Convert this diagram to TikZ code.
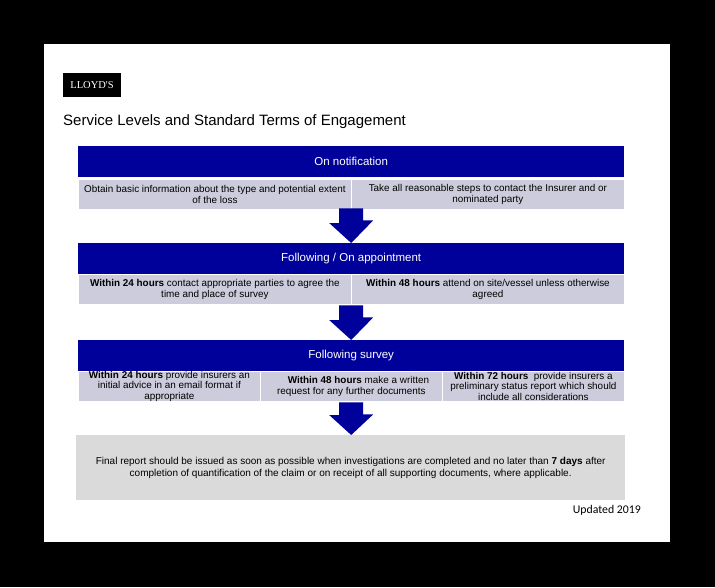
\documentclass[tikz,border=0pt]{standalone}
\usepackage{fontspec}
\setmainfont{Liberation Sans}
\newfontfamily\logofont{Liberation Serif}
\newfontfamily\notefont{Carlito}
\usetikzlibrary{positioning}
\definecolor{navy}{RGB}{0,0,155}
\definecolor{lilac}{RGB}{204,204,220}
\definecolor{pale}{RGB}{218,218,218}
\tikzset{
  header/.style = {fill=navy, text=white, minimum width=546pt, minimum height=31pt, inner sep=0pt, font=\fontsize{11.5}{13}\selectfont},
  cell/.style = {fill=lilac, draw=white, line width=0.8pt, minimum height=30pt, inner sep=0pt, align=center, font=\fontsize{9.9}{10.2}\selectfont},
  wide/.style = {cell, minimum width=273pt},
  third/.style = {cell, minimum width=182pt}
}
\begin{document}
\begin{tikzpicture}[x=1pt, y=-1pt]
  \fill[black] (0,0) rectangle (715,587);
  \fill[white] (44,44) rectangle (670,542);
  \useasboundingbox (0,0) rectangle (715,587);

  % logo and title
  \node[fill=black, text=white, minimum width=58pt, minimum height=24pt, inner sep=0pt, font=\logofont\fontsize{10.5}{12}\selectfont] (logo) at (92,85) {LLOYD'S};
  \node[anchor=west, inner sep=0pt, font=\fontsize{15}{18}\selectfont] (title) at (63,122) {Service Levels and Standard Terms of Engagement};

  % stage 1
  \node[header, anchor=north west] (h1) at (78,146) {On notification};
  \node[wide, anchor=north west] (c11) at (78,179) {Obtain basic information about the type and potential extent\\of the loss};
  \node[wide, anchor=north west] (c12) at (351,179) {Take all reasonable steps to contact the Insurer and or\\nominated party};

  % stage 2
  \node[header, anchor=north west] (h2) at (78,243) {Following / On appointment};
  \node[wide, anchor=north west] (c21) at (78,274) {\textbf{Within 24 hours} contact appropriate parties to agree the\\time and place of survey};
  \node[wide, anchor=north west] (c22) at (351,274) {\textbf{Within 48 hours} attend on site/vessel unless otherwise\\agreed};

  % stage 3
  \node[header, anchor=north west] (h3) at (78,340) {Following survey};
  \node[third, anchor=north west] (c31) at (78,371) {\textbf{Within 24 hours} provide insurers an\\initial advice in an email format if\\appropriate};
  \node[third, anchor=north west] (c32) at (260,371) {\hspace{14pt}\textbf{Within 48 hours} make a written\\request for any further documents};
  \node[third, anchor=north west] (c33) at (442,371) {\textbf{Within 72 hours}\ \ provide insurers a\\preliminary status report which should\\include all considerations};

  % final
  \node[fill=pale, anchor=north west, minimum width=549pt, minimum height=65pt, align=center, inner sep=0pt, font=\fontsize{10}{12}\selectfont] (final) at (76,435) {Final report should be issued as soon as possible when investigations are completed and no later than \textbf{7 days} after\\completion of quantification of the claim or on receipt of all supporting documents, where applicable.};
  \node[anchor=east, inner sep=0pt, font=\notefont\fontsize{11.8}{13}\selectfont] (upd) at (641,510) {Updated 2019};

  % block arrows between stages
  \foreach \from/\to in {h1/h2, h2/h3, h3/final} {
    \path (\from.south) ++(0,31) coordinate (top);
    \path (\from.south |- \to.north) coordinate (tip);
    \fill[navy] (top) ++(-12,0) -- ++(24,0) -- ++(0,12) -- ++(10,0) -- (tip) -- ++(-22,-20) -- ++(10,0) -- cycle;
  }
\end{tikzpicture}
\end{document}
